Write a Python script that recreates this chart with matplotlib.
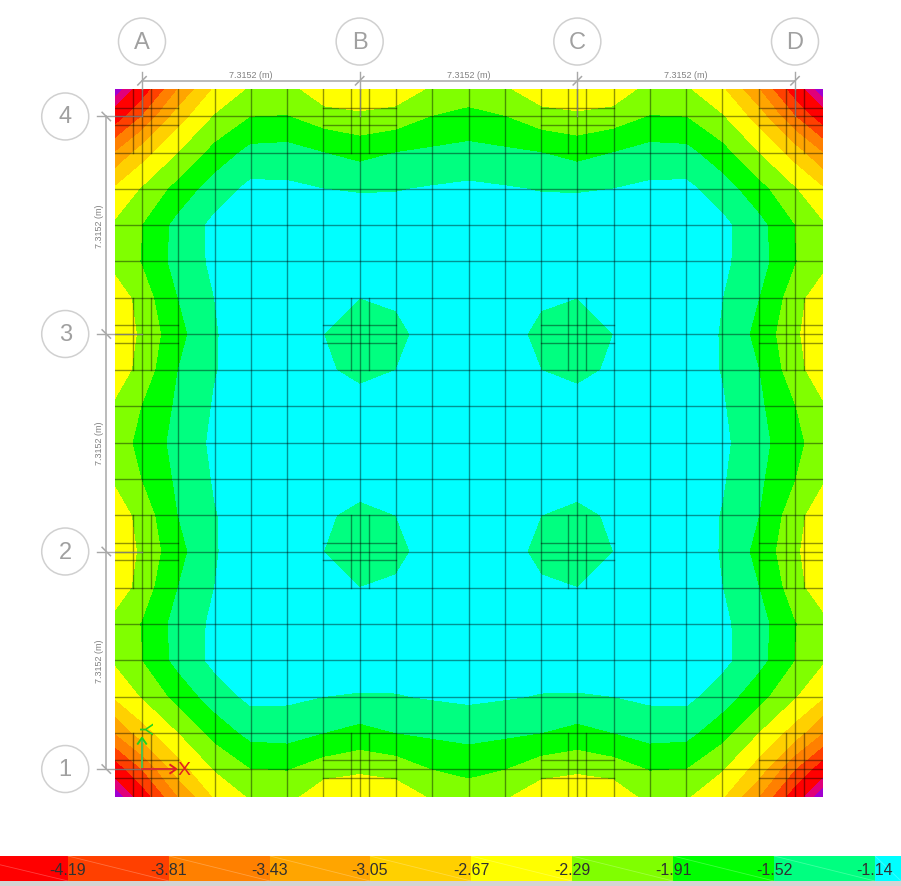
import numpy as np
import matplotlib
matplotlib.use('Agg')
import matplotlib.pyplot as plt
from matplotlib.patches import Circle

plt.rcParams['font.family'] = ['Liberation Sans', 'DejaVu Sans']

# slab geometry in metres
bay = 7.3152
cell = bay / 6
edge = 0.924
grid_x = [0, bay, 2 * bay, 3 * bay]
grid_y = [0, bay, 2 * bay, 3 * bay]
col_names = ['A', 'B', 'C', 'D']
row_names = ['1', '2', '3', '4']
dim_label = '7.3152 (m)'

# contour bands
levels = [-9, -4.82, -4.62, -4.19, -3.81, -3.43, -3.05, -2.67, -2.29, -1.91, -1.52, -1.14, 0]
band_colors = ['#a000d0', '#e0007a', '#ff0000', '#ff4000', '#ff8000', '#ffa500', '#ffd000',
               '#ffff00', '#80ff00', '#00ff00', '#00ff80', '#00ffff']

# legend bar
bar_edges = [0, 68, 169, 270, 370, 471, 572, 673, 774, 875, 901]
bar_colors = ['#ff0000', '#ff4000', '#ff8000', '#ffa500', '#ffd000',
              '#ffff00', '#80ff00', '#00ff00', '#00ff80', '#00ffff']
bar_labels = ['-4.19', '-3.81', '-3.43', '-3.05', '-2.67', '-2.29', '-1.91', '-1.52', '-1.14']

# values at mesh nodes, one quarter of the slab (corner to centre)
quarter = np.array([
    [-5.00, -4.45, -3.43, -2.63, -2.25, -2.15, -2.60, -2.65, -2.55, -2.25, -2.12],
    [-4.45, -3.81, -2.85, -2.27, -1.92, -1.90, -2.12, -2.22, -2.15, -1.91, -1.81],
    [-3.43, -2.85, -2.30, -1.78, -1.40, -1.37, -1.52, -1.65, -1.52, -1.45, -1.39],
    [-2.63, -2.27, -1.78, -1.33, -1.05, -1.07, -1.14, -1.16, -1.16, -1.11, -1.07],
    [-2.25, -1.92, -1.40, -1.05, -0.92, -0.90, -0.98, -1.00, -0.95, -0.90, -0.90],
    [-2.15, -1.90, -1.37, -1.07, -0.90, -0.85, -0.95, -0.98, -0.92, -0.88, -0.88],
    [-2.60, -2.12, -1.52, -1.14, -0.98, -0.95, -1.10, -1.14, -1.09, -0.92, -0.90],
    [-2.65, -2.22, -1.65, -1.16, -1.00, -0.98, -1.14, -1.32, -1.23, -1.00, -0.92],
    [-2.55, -2.15, -1.52, -1.16, -0.95, -0.92, -1.09, -1.23, -1.14, -1.00, -0.90],
    [-2.25, -1.91, -1.45, -1.11, -0.90, -0.88, -0.92, -1.00, -1.00, -0.90, -0.88],
    [-2.12, -1.81, -1.39, -1.07, -0.90, -0.88, -0.90, -0.92, -0.90, -0.88, -0.85],
])

# the slab is symmetric both ways
top = np.hstack([quarter, quarter[:, -2::-1]])
field = np.vstack([top, top[-2::-1, :]])

mesh = np.arange(0, 3 * bay + cell / 2, cell)
nodes = np.concatenate([[-edge], mesh, [3 * bay + edge]])
lo, hi = -edge, 3 * bay + edge

fig = plt.figure(figsize=(9.01, 8.87), dpi=100)
ax = fig.add_axes([114.5 / 901, 1 - 797.5 / 887, 708 / 901, 707.5 / 887])
ax.set_xlim(lo, hi)
ax.set_ylim(lo, hi)
ax.axis('off')

ax.contourf(nodes, nodes, field, levels=levels, colors=band_colors)

# mesh
mesh_kw = dict(color='black', lw=1, alpha=0.42, zorder=3)
for m in mesh:
    ax.plot([m, m], [lo, hi], **mesh_kw)
    ax.plot([lo, hi], [m, m], **mesh_kw)

# finer mesh around columns
sub = 0.3
for cx in grid_x:
    for cy in grid_y:
        for d in (-sub, sub):
            ax.plot([cx + d, cx + d], [max(cy - cell, lo), min(cy + cell, hi)], **mesh_kw)
            ax.plot([max(cx - cell, lo), min(cx + cell, hi)], [cy + d, cy + d], **mesh_kw)

# grid lines, dimensions and bubbles
gray = '#a8a8a8'
line_kw = dict(color=gray, lw=1.1, clip_on=False, zorder=4)
top_dim = 3 * bay + 1.2
left_dim = -1.2
tick = 0.14
for x, name in zip(grid_x, col_names):
    ax.plot([x, x], [hi, top_dim + 0.3], color=gray, lw=1, clip_on=False, zorder=4)
    ax.plot([x, x], [3 * bay, hi], color='#808080', lw=1, alpha=0.8, zorder=4)
    ax.plot([x - tick, x + tick], [top_dim - tick, top_dim + tick], **line_kw)
    ax.add_patch(Circle((x, 3 * bay + 2.52), 0.79, fc='white', ec='#d0d0d0', lw=1.1, clip_on=False))
    ax.text(x, 3 * bay + 2.5, name, fontsize=17, color='#a0a0a0', ha='center', va='center')
for y, name in zip(grid_y, row_names):
    ax.plot([left_dim - 0.3, lo], [y, y], color=gray, lw=1, clip_on=False, zorder=4)
    ax.plot([lo, 0], [y, y], color='#808080', lw=1, alpha=0.8, zorder=4)
    ax.plot([left_dim - tick, left_dim + tick], [y + tick, y - tick], **line_kw)
    ax.add_patch(Circle((-2.58, y), 0.79, fc='white', ec='#d0d0d0', lw=1.1, clip_on=False))
    ax.text(-2.58, y, name, fontsize=17, color='#a0a0a0', ha='center', va='center')

ax.plot([grid_x[0], grid_x[-1]], [top_dim, top_dim], **line_kw)
ax.plot([left_dim, left_dim], [grid_y[0], grid_y[-1]], **line_kw)
for a, b in zip(grid_x[:-1], grid_x[1:]):
    ax.text((a + b) / 2, top_dim + 0.07, dim_label, fontsize=6.5, color='#808080', ha='center', va='bottom')
for a, b in zip(grid_y[:-1], grid_y[1:]):
    ax.text(left_dim - 0.07, (a + b) / 2, dim_label, fontsize=6.5, color='#808080', rotation=90,
            ha='right', va='center')

# global axes marker
ax.plot([0, 0], [0, 1.05], color='#50c050', lw=1.4, zorder=5)
ax.plot([0, 1.1], [0, 0], color='#d83030', lw=1.4, zorder=5)
ax.plot([-0.14, 0, 0.14], [0.85, 1.05, 0.85], color='#20d020', lw=1.4, zorder=5)
ax.plot([0.95, 1.15, 0.95], [0.14, 0, -0.14], color='#e02020', lw=1.4, zorder=5)
ax.text(1.4, 0, 'X', color='#e02020', fontsize=14, ha='center', va='center', zorder=5)
ax.text(0.03, 1.38, 'Y', color='#20d020', fontsize=14, rotation=-90, ha='center', va='center', zorder=5)

# legend bar at the bottom
strip = fig.add_axes([0, 0, 1, 5 / 887])
strip.set_facecolor('#d4d4d4')
strip.set_xticks([])
strip.set_yticks([])
for s in strip.spines.values():
    s.set_visible(False)

bar = fig.add_axes([0, 5 / 887, 1, 25 / 887])
bar.set_xlim(0, 901)
bar.set_ylim(0, 1)
bar.axis('off')
bar.barh(0.5, np.diff(bar_edges), left=bar_edges[:-1], height=1, color=bar_colors)
for a, b in zip(bar_edges[:-1], bar_edges[1:]):
    bar.plot([a, b], [1 if a else 0.65, 0], color='white', lw=0.6, alpha=0.25)
for x, label in zip(bar_edges[1:-1], bar_labels):
    bar.text(x, 0.47, label, fontsize=11.5, color='#303030', ha='center', va='center')

plt.savefig('out.png', dpi=100)
